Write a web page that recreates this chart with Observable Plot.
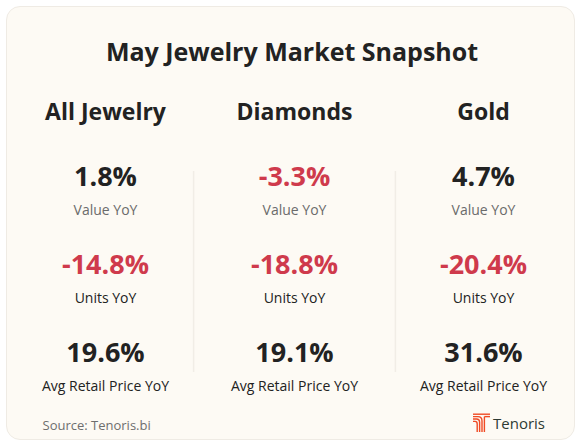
<!DOCTYPE html>
<html>
<head>
<meta charset="utf-8">
<script src="https://cdn.jsdelivr.net/npm/d3@7"></script>
<script src="https://cdn.jsdelivr.net/npm/@observablehq/plot@0.6"></script>
<style>
  html, body { margin: 0; padding: 0; background: #ffffff; }
  #wrap { position: relative; width: 583px; height: 448px; }
  #card { position: absolute; left: 6px; top: 6px; width: 569px; height: 434px;
          background: #fdfaf4; border: 1px solid #efebe4; border-radius: 14px; box-sizing: border-box; }
  #chart { position: absolute; left: 0; top: 0; }
  #logo { position: absolute; left: 472px; top: 413px; display: flex; align-items: center; gap: 2px;
          font-family: "Open Sans", sans-serif; font-size: 15px; font-weight: 500; color: #2e3a33; }
</style>
</head>
<body>
<div id="wrap">
  <div id="card"></div>
  <div id="chart"></div>
  <div id="logo">
    <svg width="19" height="20" viewBox="0 0 19 20">
      <g fill="none" stroke="#f04a24" stroke-width="1.4">
        <path d="M1 1.2 H18"/>
        <path d="M1 3.6 H6 Q10 3.6 10 8 V19"/>
        <path d="M1 6 H4.5 Q7.6 6 7.6 9.5 V19"/>
        <path d="M1 8.4 H3 Q5.2 8.4 5.2 11 V19"/>
        <path d="M12.4 3.6 H18"/>
        <path d="M12.4 3.6 V19"/>
      </g>
    </svg>
    <span>Tenoris</span>
  </div>
</div>
<script>
const title = "May Jewelry Market Snapshot";
const categories = ["All Jewelry", "Diamonds", "Gold"];
const metrics = ["Value YoY", "Units YoY", "Avg Retail Price YoY"];
const valueYoY = [1.8, -3.3, 4.7];
const unitsYoY = [-14.8, -18.8, -20.4];
const priceYoY = [19.6, 19.1, 31.6];
const source = "Source: Tenoris.bi";

const series = [valueYoY, unitsYoY, priceYoY];
const cells = [];
metrics.forEach((m, i) => categories.forEach((c, j) => cells.push({category: c, metric: m, value: series[i][j]})));
const separators = [0.466, 1.534];

const font = "'Open Sans', sans-serif";
const fmt = v => (v < 0 ? "-" : "") + Math.abs(v).toFixed(1) + "%";

const chart = Plot.plot({
  width: 583,
  height: 448,
  margin: 0,
  style: {background: "transparent", fontFamily: font},
  x: {type: "linear", domain: [0, 2], range: [105, 483], axis: null},
  y: {type: "point", domain: metrics, range: [177, 353], padding: 0, axis: null},
  marks: [
    Plot.ruleX(separators, {x: d => d, y1: () => metrics[0], y2: () => metrics[2],
      insetTop: -6, insetBottom: -19, stroke: "#f1ede6", strokeWidth: 1.5}),
    Plot.text([title], {frameAnchor: "top", dy: 52, text: d => d, fontSize: 25, fontWeight: 700, fill: "#222222", lineAnchor: "middle"}),
    Plot.text(categories, {x: (d, i) => i, frameAnchor: "top", dy: 112, text: d => d, fontSize: 23, fontWeight: 700, fill: "#222222", lineAnchor: "middle"}),
    Plot.text(cells, {x: d => categories.indexOf(d.category), y: "metric", text: d => fmt(d.value),
      fontSize: 27, fontWeight: 700, lineAnchor: "middle", fill: d => d.value < 0 ? "#cf3a4c" : "#222222"}),
    Plot.text(cells, {x: d => categories.indexOf(d.category), y: "metric", dy: 33, text: "metric",
      fontSize: 14, lineAnchor: "middle", fill: d => d.metric === metrics[0] ? "#6b6b6b" : "#222222"}),
    Plot.text([source], {frameAnchor: "bottom-left", dx: 42, dy: -23, text: d => d, textAnchor: "start",
      lineAnchor: "middle", fontSize: 13, fill: "#6e6e6e"})
  ]
});
document.getElementById("chart").appendChild(chart);
</script>
</body>
</html>
